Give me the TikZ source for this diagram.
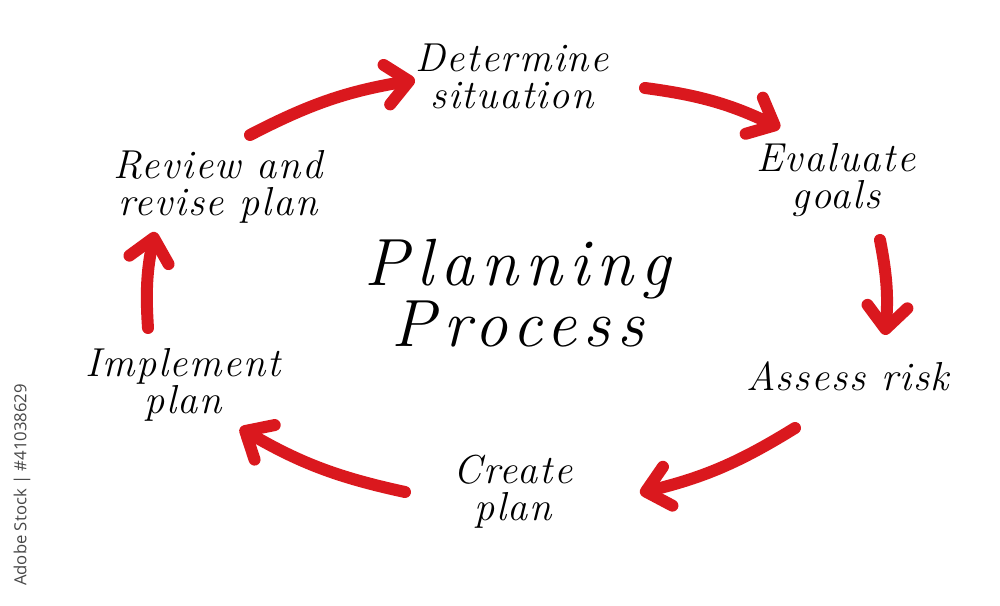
\documentclass[tikz,border=0pt]{standalone}
\usepackage{fontspec}
\setmainfont{Latin Modern Roman}
\newfontfamily\marchiofont{Open Sans}
\usetikzlibrary{arrows.meta}
\definecolor{rossoplan}{RGB}{218,24,30}
\tikzset{
  passo/.style={font=\fontsize{23}{21}\selectfont\itshape\addfontfeature{LetterSpace=4}, align=center, inner sep=0pt},
  titolo/.style={font=\fontsize{38}{35}\selectfont\itshape\addfontfeature{LetterSpace=11}, align=center, inner sep=0pt},
  freccia/.style={rossoplan, line width=2.4mm, line cap=round, -{Straight Barb[length=4.5mm,width=8mm,round]}},
}
\begin{document}
\begin{tikzpicture}[x=0.2mm,y=-0.2mm]
        \useasboundingbox (0,0) rectangle (1000,606);

        % Titolo al centro
        \node[titolo] (titolo) at (518,293) {Planning\\Process};

        % Fasi del ciclo
        \node[passo] (det) at (512,76) {Determine\\situation};
        \node[passo] (eval) at (836,180) {Evaluate\\goals};
        \node[passo] (assess) at (848,376) {Assess risk};
        \node[passo] (create) at (513,492) {Create\\plan};
        \node[passo] (impl) at (183,385) {Implement\\plan};
        \node[passo] (review) at (218,187) {Review and\\revise plan};

        % Frecce (senso orario)
        \draw[freccia] ([shift={(32,-52)}]review.center) to[bend left=9] ([shift={(-97,4)}]det.center);
        \draw[freccia] ([shift={(133,12)}]det.center) to[bend left=9] ([shift={(-56,-52)}]eval.center);
        \draw[freccia] ([shift={(44,60)}]eval.center) to[bend left=8] ([shift={(37,-41)}]assess.center);
        \draw[freccia] ([shift={(-53,52)}]assess.center) to[bend left=9] ([shift={(127,1)}]create.center);
        \draw[freccia] ([shift={(-108,0)}]create.center) to[bend left=9] ([shift={(57,43)}]impl.center);
        \draw[freccia] ([shift={(-35,-57)}]impl.center) to[bend left=8] ([shift={(-63,45)}]review.center);

        % Marchio sul bordo
        \node[rotate=90, font=\marchiofont\fontsize{9.5}{10}\selectfont, text=black!72, inner sep=0pt] (marchio) at (22,485) {Adobe Stock | \#41038629};
\end{tikzpicture}
\end{document}
